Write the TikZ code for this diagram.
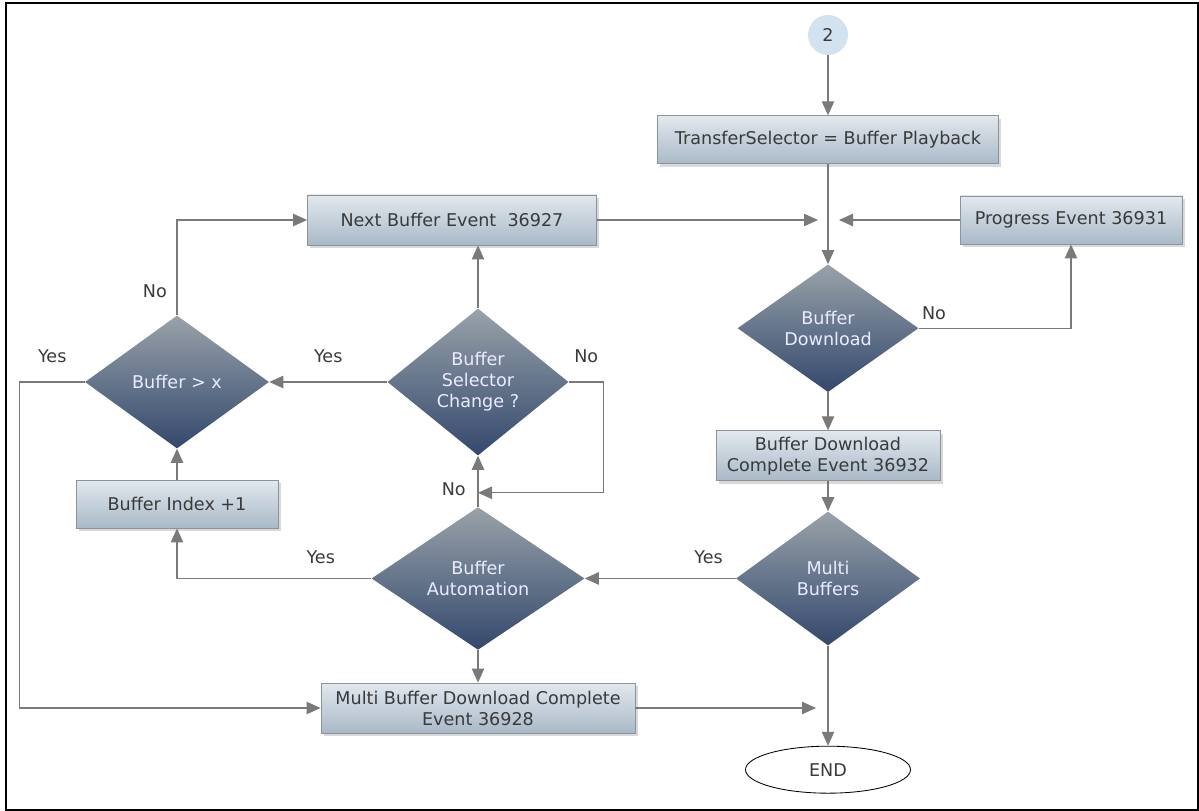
\documentclass[tikz,border=0pt]{standalone}
\usepackage{fontspec}
\setmainfont{DejaVu Sans}
\usepackage{tikz}
\usetikzlibrary{arrows.meta,positioning,shapes.geometric,shadows}
\definecolor{flowline}{HTML}{7A7A7A}
\definecolor{boxtop}{HTML}{E2E8EE}
\definecolor{boxbot}{HTML}{A9B9C8}
\definecolor{boxedge}{HTML}{8C949B}
\definecolor{dectop}{HTML}{9AA2A9}
\definecolor{decmid}{HTML}{65758B}
\definecolor{decbot}{HTML}{34486C}
\definecolor{conncol}{HTML}{D3E2F0}
\definecolor{txtgray}{HTML}{3A3A3A}

\begin{document}
\begin{tikzpicture}[
  node distance=1cm,
  base/.style={font=\fontsize{12.5pt}{15pt}\selectfont,align=center,text=txtgray},
  process/.style={base,rectangle,draw=boxedge,line width=0.6pt,top color=boxtop,bottom color=boxbot,inner sep=1pt,drop shadow={shadow xshift=2pt,shadow yshift=-2pt,opacity=0.3}},
  decision/.style={base,diamond,text=white!92!blue,inner sep=1pt,top color=dectop,bottom color=decbot,middle color=decmid},
  connector/.style={base,circle,fill=conncol,minimum size=1cm,inner sep=0pt},
  terminal/.style={base,ellipse,draw=black,line width=0.6pt,fill=white,minimum width=4.125cm,minimum height=1.175cm},
  arr/.style={-{Triangle[length=3.5mm,width=3.1mm]},draw=flowline,line width=0.8pt},
  lbl/.style={base}
]
\useasboundingbox (0,0) rectangle (29.975,-20.275);
\draw[line width=1.4pt] (0.15,-0.075) rectangle (29.95,-20.25);

% main column (right)
\node[connector] (start) at (20.7,-0.875) {2};
\node[process,minimum width=8.525cm,minimum height=1.2cm,below=1.5cm of start] (tsel) {TransferSelector = Buffer Playback};
\node[decision,minimum width=4.525cm,minimum height=3.15cm,below=2.5cm of tsel] (bdl) {Buffer\\Download};
\node[process,minimum width=5.6cm,minimum height=1.25cm,below=0.95cm of bdl] (bdc) {Buffer Download\\Complete Event 36932};
\node[decision,minimum width=4.6cm,minimum height=3.35cm,below=0.75cm of bdc] (multi) {Multi\\Buffers};
\node[terminal,below=2.5cm of multi] (end) {END};

% events row
\node[process,minimum width=5.55cm,minimum height=1.2cm] (prog) at (26.775,-5.5) {Progress Event 36931};
\node[process,minimum width=7.225cm,minimum height=1.25cm] (next) at (11.3,-5.5) {Next Buffer Event~~36927};

% buffer loop (left)
\node[decision,minimum width=4.525cm,minimum height=3.25cm] (bsel) at (11.95,-9.55) {Buffer\\Selector\\Change ?};
\node[decision,minimum width=4.6cm,minimum height=3.325cm] (bgx) at (4.425,-9.55) {Buffer > x};
\node[process,minimum width=5.05cm,minimum height=1.2cm] (bidx) at (4.425,-12.6) {Buffer Index +1};
\node[decision,minimum width=5.325cm,minimum height=3.25cm] (baut) at (bsel |- multi) {Buffer\\Automation};
\node[process,minimum width=7.85cm,minimum height=1.25cm] (mbdc) at (11.95,-17.7) {Multi Buffer Download Complete\\Event 36928};

% join points
\coordinate (mrg) at (tsel.south |- next.east);
\coordinate[left=0.25cm of mrg] (mrgl);
\coordinate[right=0.275cm of mrg] (mrgr);
\coordinate[below=0.925cm of bsel] (bjoin);
\coordinate (mcol) at (end.north |- mbdc.east);
\coordinate[left=0.3cm of mcol] (mjoin);

% arrows
\draw[arr] (start) -- (tsel);
\draw[arr] (tsel) -- (bdl);
\draw[arr] (next.east) -- (mrgl);
\draw[arr] (prog.west) -- (mrgr);
\draw[arr] (bdl.east) -| node[pos=0.05,above=2pt,lbl] {No} (prog.south);
\draw[arr] (bdl) -- (bdc);
\draw[arr] (bdc) -- (multi);
\draw[arr] (multi.west) -- node[pos=0.18,above=7pt,lbl] {Yes} (baut.east);
\draw[arr] (multi) -- (end);

\draw[arr] (baut.north) -- node[pos=0.35,left=5pt,lbl] {No} (bsel.south);
\draw[arr] (bsel.east) -- ++(0.875,0) node[midway,above=10pt,lbl] {No} |- (bjoin);
\draw[arr] (bsel.north) -- (bsel.north |- next.south);
\draw[arr] (bsel.west) -- node[midway,above=10pt,lbl] {Yes} (bgx.east);
\draw[arr] (bgx.north) |- node[pos=0.125,left=3.5pt,lbl] {No} (next.west);
\draw[arr] (bgx.west) -- ++(-1.625,0) node[midway,above=10pt,lbl] {Yes} |- (mbdc.west);
\draw[arr] (bidx) -- (bgx);
\draw[arr] (baut.west) -| node[pos=0.13,above=7pt,lbl] {Yes} (bidx.south);
\draw[arr] (baut) -- (mbdc);
\draw[arr] (mbdc.east) -- (mjoin);

\end{tikzpicture}
\end{document}
